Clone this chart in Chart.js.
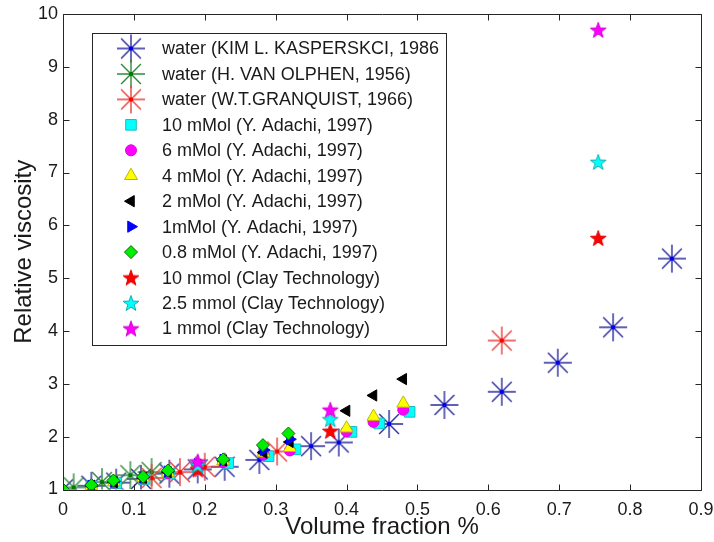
<!DOCTYPE html>
<html>
<head>
<meta charset="utf-8">
<script src="https://cdn.jsdelivr.net/npm/chart.js@4/dist/chart.umd.min.js"></script>
<style>
  html, body { margin: 0; padding: 0; background: #fff; }
  #wrap { width: 714px; height: 542px; }
</style>
</head>
<body>
<div id="wrap"><canvas id="viscChart" width="714" height="542"></canvas></div>
<script>
// water, literature values
const kimX = [0, 0.04, 0.075, 0.11, 0.15, 0.19, 0.228, 0.277, 0.35, 0.389, 0.46, 0.538, 0.619, 0.698, 0.776, 0.859];
const kimY = [1.0, 1.07, 1.13, 1.2, 1.3, 1.38, 1.43, 1.56, 1.82, 1.89, 2.24, 2.6, 2.85, 3.4, 4.07, 5.37];
const olphenX = [0.015, 0.055, 0.095, 0.125];
const olphenY = [1.04, 1.14, 1.27, 1.33];
const granqX = [0.125, 0.165, 0.2, 0.302, 0.619];
const granqY = [1.22, 1.33, 1.43, 1.72, 3.82];

// Adachi 1997, NaCl series
const ad10X = [0.04, 0.075, 0.115, 0.15, 0.19, 0.233, 0.29, 0.328, 0.407, 0.446, 0.489];
const ad10Y = [1.06, 1.12, 1.2, 1.3, 1.42, 1.5, 1.63, 1.76, 2.09, 2.25, 2.47];
const adX = [0.04, 0.072, 0.113, 0.148, 0.19, 0.226, 0.283, 0.32, 0.40, 0.438, 0.48];
const ad6Y = [1.07, 1.13, 1.21, 1.31, 1.45, 1.52, 1.66, 1.74, 2.1, 2.28, 2.51];
const ad4Y = [1.07, 1.14, 1.22, 1.32, 1.46, 1.54, 1.69, 1.79, 2.16, 2.38, 2.63];
const ad2Y = [1.07, 1.14, 1.22, 1.33, 1.47, 1.55, 1.7, 1.9, 2.49, 2.78, 3.09];
const ad1X = [0.04, 0.072, 0.113, 0.148, 0.19, 0.226, 0.283, 0.32];
const ad1Y = [1.07, 1.15, 1.23, 1.34, 1.48, 1.56, 1.75, 1.95];
const ad08X = [0, 0.04, 0.071, 0.113, 0.148, 0.226, 0.282, 0.318];
const ad08Y = [1.0, 1.085, 1.17, 1.24, 1.36, 1.57, 1.84, 2.06];

// Clay Technology
const clayX = [0.19, 0.377, 0.755];
const clay10Y = [1.38, 2.11, 5.76];
const clay25Y = [1.46, 2.33, 7.2];
const clay1Y = [1.53, 2.51, 9.7];

const xTicks = [0, 0.1, 0.2, 0.3, 0.4, 0.5, 0.6, 0.7, 0.8, 0.9];
const yTicks = [1, 2, 3, 4, 5, 6, 7, 8, 9, 10];

const zip = (xs, ys) => xs.map((x, i) => ({ x, y: ys[i] }));

// marker sprites
function asterisk(lineColor, dotColor) {
  const c = document.createElement('canvas');
  c.width = 32; c.height = 32;
  const g = c.getContext('2d');
  const r = 14;
  g.strokeStyle = lineColor;
  g.lineWidth = 1.4;
  g.beginPath();
  for (let k = 0; k < 4; k++) {
    const a = k * Math.PI / 4;
    g.moveTo(16 + Math.cos(a) * r, 16 + Math.sin(a) * r);
    g.lineTo(16 - Math.cos(a) * r, 16 - Math.sin(a) * r);
  }
  g.stroke();
  g.fillStyle = dotColor;
  g.beginPath();
  g.arc(16, 16, 2.2, 0, Math.PI * 2);
  g.fill();
  return c;
}

function pentagram(fill, edge) {
  const c = document.createElement('canvas');
  c.width = 20; c.height = 20;
  const g = c.getContext('2d');
  const R = 8.3, r = R * 0.4;
  g.beginPath();
  for (let k = 0; k < 10; k++) {
    const a = -Math.PI / 2 + k * Math.PI / 5;
    const rr = k % 2 ? r : R;
    g.lineTo(10 + Math.cos(a) * rr, 10.8 + Math.sin(a) * rr);
  }
  g.closePath();
  g.fillStyle = fill;
  g.fill();
  g.strokeStyle = edge;
  g.lineWidth = 1;
  g.stroke();
  return c;
}

const datasets = [
  { label: 'water (KIM L. KASPERSKCI, 1986', data: zip(kimX, kimY), pointStyle: asterisk('#2b2ba0', '#0000ee') },
  { label: 'water (H. VAN OLPHEN, 1956)', data: zip(olphenX, olphenY), pointStyle: asterisk('#2f8a3c', '#007a00') },
  { label: 'water (W.T.GRANQUIST, 1966)', data: zip(granqX, granqY), pointStyle: asterisk('#e8423c', '#ff0000') },
  { label: '10 mMol (Y. Adachi, 1997)', data: zip(ad10X, ad10Y), pointStyle: 'rect', pointRadius: 7.5, backgroundColor: '#00ffff', borderColor: '#1cbcbc' },
  { label: '6 mMol (Y. Adachi, 1997)', data: zip(adX, ad6Y), pointStyle: 'circle', pointRadius: 5.5, backgroundColor: '#ff00ff', borderColor: '#e000e0' },
  { label: '4 mMol (Y. Adachi, 1997)', data: zip(adX, ad4Y), pointStyle: 'triangle', pointRadius: 7.5, backgroundColor: '#ffff00', borderColor: '#b8b800' },
  { label: '2 mMol (Y. Adachi, 1997)', data: zip(adX, ad2Y), pointStyle: 'triangle', pointRotation: -90, pointRadius: 6.5, backgroundColor: '#000000', borderColor: '#000000' },
  { label: '1mMol (Y. Adachi, 1997)', data: zip(ad1X, ad1Y), pointStyle: 'triangle', pointRotation: 90, pointRadius: 6.5, backgroundColor: '#0000ff', borderColor: '#0000ff' },
  { label: '0.8 mMol (Y. Adachi, 1997)', data: zip(ad08X, ad08Y), pointStyle: 'rectRot', pointRadius: 6.5, backgroundColor: '#00ee00', borderColor: '#0a6a0a' },
  { label: '10 mmol (Clay Technology)', data: zip(clayX, clay10Y), pointStyle: pentagram('#ff0000', '#e00000') },
  { label: '2.5 mmol (Clay Technology)', data: zip(clayX, clay25Y), pointStyle: pentagram('#00ffff', '#10b0b0') },
  { label: '1 mmol (Clay Technology)', data: zip(clayX, clay1Y), pointStyle: pentagram('#ff00ff', '#d000d0') }
].map((ds, i, all) => Object.assign({
  showLine: false,
  borderWidth: 1,
  pointRadius: 10,
  order: all.length - i
}, ds));

// boxed axes with inward ticks on all four sides
const axesBox = {
  id: 'axesBox',
  afterDraw(chart) {
    const { ctx, chartArea: a, scales: { x, y } } = chart;
    const L = Math.round(a.left) + 0.5, R = Math.round(a.right) + 0.5;
    const T = Math.round(a.top) + 0.5, B = Math.round(a.bottom) + 0.5;
    const tl = 6;
    ctx.save();
    ctx.strokeStyle = '#262626';
    ctx.lineWidth = 1;
    ctx.beginPath();
    ctx.rect(L, T, R - L, B - T);
    x.ticks.forEach(t => {
      const px = Math.round(x.getPixelForValue(t.value)) + 0.5;
      ctx.moveTo(px, B); ctx.lineTo(px, B - tl);
      ctx.moveTo(px, T); ctx.lineTo(px, T + tl);
    });
    y.ticks.forEach(t => {
      const py = Math.round(y.getPixelForValue(t.value)) + 0.5;
      ctx.moveTo(L, py); ctx.lineTo(L + tl, py);
      ctx.moveTo(R, py); ctx.lineTo(R - tl, py);
    });
    ctx.stroke();
    ctx.restore();
  }
};

// boxed legend in the upper-left corner of the plot
const boxLegend = {
  id: 'boxLegend',
  afterDraw(chart) {
    const ctx = chart.ctx;
    const left = 92.5, top = 33.5, w = 354, h = 312;
    const rowH = 25.45, firstRow = 48.5, markX = 131, textX = 162;
    ctx.save();
    ctx.fillStyle = '#ffffff';
    ctx.fillRect(left, top, w, h);
    ctx.strokeStyle = '#262626';
    ctx.lineWidth = 1;
    ctx.strokeRect(left, top, w, h);
    ctx.font = '18px "Liberation Sans", Arial, sans-serif';
    ctx.textBaseline = 'middle';
    chart.data.datasets.forEach((ds, i) => {
      const cy = firstRow + i * rowH;
      ctx.fillStyle = ds.backgroundColor || '#000';
      ctx.strokeStyle = ds.borderColor || '#000';
      ctx.lineWidth = ds.borderWidth;
      Chart.helpers.drawPoint(ctx, {
        pointStyle: ds.pointStyle,
        rotation: ds.pointRotation || 0,
        radius: ds.pointRadius,
        borderWidth: ds.borderWidth
      }, markX, cy);
      ctx.fillStyle = '#1a1a1a';
      ctx.fillText(ds.label, textX, cy + 1);
    });
    ctx.restore();
  }
};

const tickFont = { family: '"Liberation Sans", Arial, sans-serif', size: 18 };
const titleFont = { family: '"Liberation Sans", Arial, sans-serif', size: 24 };

new Chart(document.getElementById('viscChart'), {
  type: 'scatter',
  data: { datasets },
  options: {
    responsive: false,
    animation: false,
    events: [],
    layout: { padding: { left: 0, right: 13, top: 14, bottom: 0 } },
    plugins: { legend: { display: false }, tooltip: { enabled: false } },
    scales: {
      x: {
        type: 'linear',
        min: xTicks[0], max: xTicks[xTicks.length - 1],
        afterBuildTicks: s => { s.ticks = xTicks.map(v => ({ value: v })); },
        afterFit: s => { s.height = 52.5; s.paddingLeft = 0; s.paddingRight = 0; },
        grid: { display: false, drawTicks: false },
        border: { display: false },
        ticks: { color: '#1a1a1a', font: tickFont, padding: 10, autoSkip: false, maxRotation: 0,
          callback: v => String(+v.toFixed(1)) },
        title: { display: true, text: 'Volume fraction %', color: '#1a1a1a', font: titleFont, padding: { top: 0, bottom: 0 } }
      },
      y: {
        type: 'linear',
        min: yTicks[0], max: yTicks[yTicks.length - 1],
        afterBuildTicks: s => { s.ticks = yTicks.map(v => ({ value: v })); },
        afterFit: s => { s.width = 63; s.paddingTop = 0; s.paddingBottom = 0; },
        grid: { display: false, drawTicks: false },
        border: { display: false },
        ticks: { color: '#1a1a1a', font: tickFont, padding: 5, autoSkip: false },
        title: { display: true, text: 'Relative viscosity', color: '#1a1a1a', font: titleFont, padding: { top: 10, bottom: 0 } }
      }
    }
  },
  plugins: [axesBox, boxLegend]
});
</script>
</body>
</html>
